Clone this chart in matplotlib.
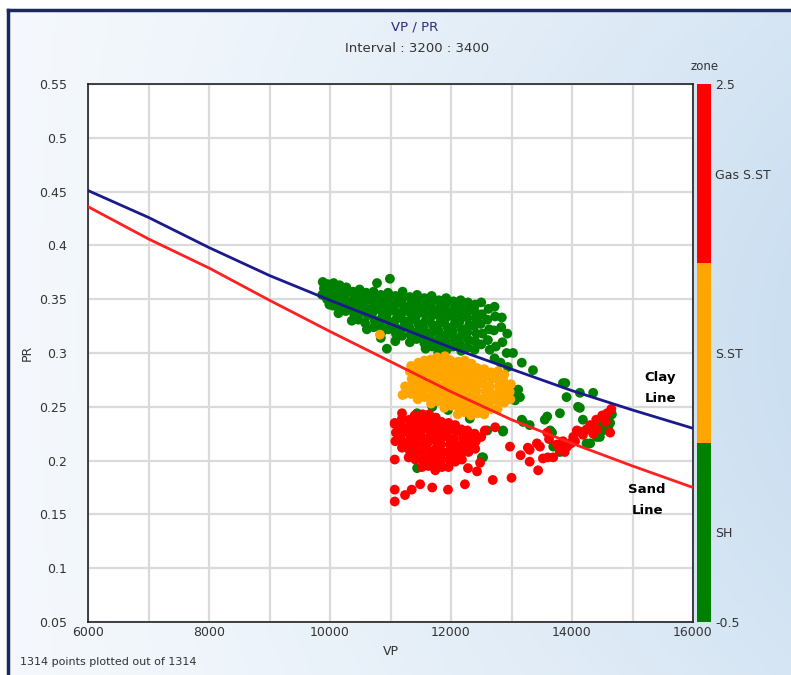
import numpy as np
import matplotlib
matplotlib.use("Agg")
import matplotlib.pyplot as plt
from matplotlib.colors import ListedColormap, BoundaryNorm
from matplotlib.lines import Line2D
from matplotlib.cm import ScalarMappable

# Clay / sand trend lines
line_vp = [6000, 7000, 8000, 9000, 10000, 11000, 12000, 13000, 14000, 15000, 16000]
clay_pr = [0.451, 0.426, 0.398, 0.372, 0.349, 0.327, 0.305, 0.285, 0.265, 0.247, 0.230]
sand_pr = [0.436, 0.406, 0.379, 0.349, 0.320, 0.292, 0.264, 0.238, 0.216, 0.195, 0.175]

# zone 0 : SH (shale)
sh_points = [
    (9880, .366), (9900, .360), (9870, .354),
    (9960, .364), (9970, .357), (9950, .350), (9990, .345),
    (10060, .365), (10040, .358), (10070, .352), (10050, .344),
    (10160, .363), (10170, .356), (10150, .349), (10180, .341), (10140, .337),
    (10270, .361), (10250, .354), (10280, .347), (10260, .339),
    (10380, .357), (10390, .350), (10370, .343), (10400, .336), (10360, .330),
    (10490, .359), (10500, .352), (10480, .345), (10510, .338), (10470, .331),
    (10600, .356), (10610, .349), (10590, .342), (10620, .335), (10580, .328), (10610, .322),
    (10720, .357), (10710, .350), (10730, .344), (10700, .337), (10740, .330), (10720, .324),
    (10777, .365),
    (10840, .354), (10850, .347), (10830, .340), (10860, .333), (10830, .326), (10850, .319), (10840, .314),
    (10960, .356), (10950, .349), (10970, .342), (10940, .336), (10980, .329), (10960, .322),
    (10990, .369), (10940, .304),
    (11080, .353), (11090, .346), (11070, .339), (11100, .332), (11070, .325), (11090, .318), (11080, .311),
    (11200, .357), (11190, .350), (11210, .344), (11180, .337), (11220, .330), (11200, .323), (11190, .316),
    (11320, .352), (11330, .345), (11310, .338), (11340, .331), (11310, .324), (11330, .317), (11320, .310),
    (11440, .354), (11430, .347), (11450, .340), (11420, .334), (11460, .327), (11440, .320), (11430, .313),
    (11560, .351), (11570, .344), (11550, .337), (11580, .330), (11550, .323), (11570, .316), (11560, .309), (11580, .304),
    (11680, .353), (11670, .346), (11690, .340), (11660, .333), (11700, .326), (11680, .319), (11670, .312), (11690, .306),
    (11800, .349), (11810, .342), (11790, .335), (11820, .328), (11790, .321), (11810, .314), (11800, .307), (11790, .300),
    (11920, .351), (11910, .345), (11930, .338), (11900, .331), (11940, .324), (11920, .317), (11910, .310), (11930, .303),
    (12040, .348), (12050, .341), (12030, .334), (12060, .327), (12030, .320), (12050, .313), (12040, .306),
    (12160, .349), (12150, .343), (12170, .336), (12140, .329), (12180, .322), (12160, .315), (12150, .308), (12170, .302),
    (12280, .347), (12290, .340), (12270, .333), (12300, .326), (12270, .319), (12290, .312), (12280, .305),
    (12400, .345), (12390, .339), (12410, .332), (12380, .325), (12420, .318), (12400, .311), (12390, .303),
    (12500, .347), (12510, .336), (12490, .327), (12520, .318), (12500, .308),
    (12620, .341), (12600, .331), (12630, .322), (12610, .312), (12640, .303),
    (12720, .343), (12730, .334), (12710, .321), (12740, .306), (12720, .295),
    (12840, .333), (12830, .324), (12850, .310), (12820, .291),
    (12930, .318), (12920, .300), (12940, .287),
    (13025, .300), (13170, .291), (13355, .284), (13110, .266), (13060, .256),
    (13030, .264), (13140, .259),
    # below the sand body
    (11440, .244), (11380, .228), (11690, .250), (11950, .247), (12150, .249),
    (12310, .239), (12600, .228), (12860, .227), (12510, .203), (11440, .193),
    (11550, .242), (12530, .203),
    # right-hand group
    (13190, .236), (13300, .233), (13590, .241), (13800, .244), (13850, .272),
    (13910, .259), (14130, .263), (14350, .263), (14100, .250), (14580, .241),
    (14460, .222), (14300, .216), (14020, .219), (13690, .213), (13800, .208),
    (13670, .226), (14600, .231), (13890, .272), (14130, .249), (13550, .238),
    (13640, .228), (14660, .243), (14630, .235), (14510, .228), (14410, .222),
    (14240, .216), (13750, .214), (14180, .238), (14460, .235), (12860, .228),
    (13170, .238),
]

# zone 1 : S.ST (sandstone)
sst_points = [
    (11230, .262), (11240, .269),
    (11340, .262), (11330, .269), (11350, .276), (11320, .283), (11340, .288),
    (11450, .257), (11460, .264), (11440, .271), (11470, .278), (11440, .285), (11460, .291),
    (11560, .259), (11550, .266), (11570, .273), (11540, .280), (11580, .287), (11560, .293),
    (11670, .253), (11680, .260), (11660, .267), (11690, .274), (11660, .281), (11680, .288), (11670, .294),
    (11780, .255), (11770, .262), (11790, .269), (11760, .276), (11800, .283), (11780, .290), (11770, .296),
    (11890, .249), (11900, .256), (11880, .263), (11910, .270), (11880, .277), (11900, .284), (11890, .291), (11900, .297),
    (12000, .251), (11990, .258), (12010, .265), (11980, .272), (12020, .279), (12000, .286), (11990, .293),
    (12110, .243), (12120, .250), (12100, .257), (12130, .264), (12100, .271), (12120, .278), (12110, .285), (12120, .292),
    (12220, .245), (12210, .252), (12230, .259), (12200, .266), (12240, .273), (12220, .280), (12210, .287), (12230, .293),
    (12330, .242), (12340, .249), (12320, .256), (12350, .263), (12320, .270), (12340, .277), (12330, .284), (12340, .290),
    (12440, .244), (12430, .251), (12450, .258), (12420, .265), (12460, .272), (12440, .279), (12430, .286),
    (12550, .243), (12560, .250), (12540, .257), (12570, .264), (12540, .271), (12560, .278), (12550, .285),
    (12660, .248), (12650, .255), (12670, .262), (12640, .269), (12680, .276), (12660, .282),
    (12770, .248), (12780, .255), (12760, .262), (12790, .269), (12760, .276), (12780, .283),
    (12880, .254), (12870, .261), (12890, .268), (12860, .275), (12880, .280),
    (12980, .257), (12970, .264), (12990, .271),
    (10826, .317), (12017, .228), (11870, .222), (11200, .261),
]

# zone 2 : Gas S.ST
gas_points = [
    (11080, .218), (11090, .226), (11070, .234),
    (11190, .212), (11180, .219), (11200, .226), (11170, .233), (11190, .239),
    (11300, .203), (11310, .210), (11290, .217), (11320, .224), (11290, .231), (11310, .238),
    (11410, .201), (11400, .208), (11420, .215), (11390, .222), (11430, .229), (11410, .236), (11400, .242),
    (11520, .194), (11530, .201), (11510, .208), (11540, .215), (11510, .222), (11530, .229), (11520, .236), (11530, .243),
    (11630, .195), (11620, .202), (11640, .209), (11610, .216), (11650, .223), (11630, .230), (11620, .237), (11640, .243),
    (11740, .191), (11750, .198), (11730, .205), (11760, .212), (11730, .219), (11750, .226), (11740, .233), (11750, .240),
    (11850, .194), (11840, .201), (11860, .208), (11830, .215), (11870, .222), (11850, .229), (11840, .236),
    (11960, .194), (11970, .201), (11950, .208), (11980, .215), (11950, .222), (11970, .229), (11960, .235),
    (12070, .199), (12060, .206), (12080, .213), (12050, .220), (12090, .227), (12070, .233),
    (12180, .201), (12190, .208), (12170, .215), (12200, .222), (12170, .229),
    (12290, .208), (12280, .215), (12300, .222), (12270, .228),
    (12400, .211), (12410, .218), (12390, .225), (12500, .222),
    # scattered below / around the main body
    (11070, .173), (11070, .162), (11240, .168), (11350, .173), (11490, .178),
    (11690, .175), (11950, .173), (12230, .178), (12280, .193), (12430, .190),
    (12480, .198), (12690, .182), (13000, .184), (12975, .213), (12730, .231),
    (11070, .201), (11190, .244), (11070, .235), (12560, .228),
    # trend to the right
    (13300, .210), (13420, .216), (13590, .226), (13520, .202), (13300, .199),
    (13440, .191), (13920, .213), (14020, .222), (14130, .227), (14240, .229),
    (14580, .244), (14630, .226), (13690, .203), (13800, .210), (13150, .205),
    (13750, .215), (13850, .218), (14300, .233), (14400, .238), (14500, .242),
    (14650, .248), (14050, .218), (14180, .224), (13980, .216), (14350, .225),
    (13880, .208), (13620, .220), (14420, .229), (14560, .236), (13270, .212),
    (13600, .203), (13470, .213), (13970, .216), (14080, .228), (14550, .240),
]

zone_names = ["SH", "S.ST", "Gas S.ST"]
zone_colors = ["#008000", "#FFA500", "#FF0000"]

W, H = 791, 675
fig = plt.figure(figsize=(W / 100, H / 100), dpi=100)
fig.patch.set_facecolor("white")

# window background gradient
bg = fig.add_axes([8 / W, 0, 1 - 8 / W, 1 - 10 / H], zorder=-10)
gx = np.linspace(0, 1, 200)
gy = np.linspace(0, 1, 200)
XX, YY = np.meshgrid(gx, gy)
t = np.clip(0.75 * XX ** 1.2 + 0.25 * np.sin(np.pi * YY) * XX, 0, 1)
c0 = np.array([0.96, 0.975, 0.99])
c1 = np.array([0.80, 0.875, 0.945])
img = c0[None, None, :] * (1 - t[..., None]) + c1[None, None, :] * t[..., None]
bg.imshow(img, aspect="auto", extent=[0, 1, 0, 1], origin="lower")
bg.axis("off")

fig.add_artist(Line2D([8 / W, 1], [1 - 10 / H] * 2, color="#1b2a5c", lw=2.5))
fig.add_artist(Line2D([8 / W] * 2, [0, 1 - 10 / H], color="#1b2a5c", lw=2.5))

cmap = ListedColormap(zone_colors)
norm = BoundaryNorm([-0.5, 0.5, 1.5, 2.5], cmap.N)

ax = fig.add_axes([88 / W, 1 - 622 / H, (693 - 88) / W, (622 - 84) / H])
ax.set_facecolor("white")

for zone, pts in [(0, sh_points), (1, sst_points), (2, gas_points)]:
    p = np.array(pts)
    ax.scatter(p[:, 0], p[:, 1], c=np.full(len(p), zone), cmap=cmap, norm=norm,
               s=50, linewidths=0, zorder=3)

ax.plot(line_vp, clay_pr, color="#1a1a8c", lw=2, zorder=4)
ax.plot(line_vp, sand_pr, color="#ff2020", lw=2, zorder=4)

ax.set_xlim(6000, 16000)
ax.set_ylim(0.05, 0.55)
xt = np.arange(6000, 16001, 1000)
ax.set_xticks(xt)
ax.set_xticklabels([str(v) if v % 2000 == 0 else "" for v in xt])
yt = np.arange(0.05, 0.5501, 0.05)
ax.set_yticks(yt)
ax.set_yticklabels([f"{v:g}" for v in np.round(yt, 2)])
ax.grid(True, color="#dadada", lw=1.6, zorder=0)
ax.set_axisbelow(True)
ax.tick_params(length=0, labelsize=9, colors="#333333")
ax.tick_params(axis="y", pad=15)
ax.tick_params(axis="x", pad=3)
for s in ax.spines.values():
    s.set_color("#222222")
    s.set_linewidth(1.2)
ax.set_xlabel("VP", fontsize=9, color="#333333", labelpad=4)
ax.set_ylabel("PR", fontsize=9, color="#333333", labelpad=4)

ax.text(15455, 0.2768, "Clay", fontsize=9.5, fontweight="bold", ha="center", va="center", zorder=5)
ax.text(15455, 0.258, "Line", fontsize=9.5, fontweight="bold", ha="center", va="center", zorder=5)
ax.text(15240, 0.1727, "Sand", fontsize=9.5, fontweight="bold", ha="center", va="center", zorder=5)
ax.text(15240, 0.154, "Line", fontsize=9.5, fontweight="bold", ha="center", va="center", zorder=5)

# colour bar
cax = fig.add_axes([697 / W, 1 - 622 / H, 14 / W, (622 - 84) / H])
sm = ScalarMappable(norm=norm, cmap=cmap)
cb = fig.colorbar(sm, cax=cax, ticks=[-0.5, 0, 1, 2, 2.5])
cb.ax.set_yticklabels(["-0.5"] + zone_names + ["2.5"])
cb.ax.minorticks_off()
cb.outline.set_visible(False)
cb.ax.tick_params(which="both", length=0, labelsize=9, colors="#333333", pad=3)
fig.text(705 / W, 1 - 66 / H, "zone", fontsize=8.5, color="#333333", ha="center", va="center")

fig.text(415 / W, 1 - 27 / H, "VP / PR", fontsize=9.5, color="#2b2b80", ha="center", va="center")
fig.text(417 / W, 1 - 48 / H, "Interval : 3200 : 3400", fontsize=9.5, color="#333333",
         ha="center", va="center")
fig.text(20 / W, 1 - 662 / H, "1314 points plotted out of 1314", fontsize=8, color="#333333",
         ha="left", va="center")

fig.savefig("out.png", dpi=100)
